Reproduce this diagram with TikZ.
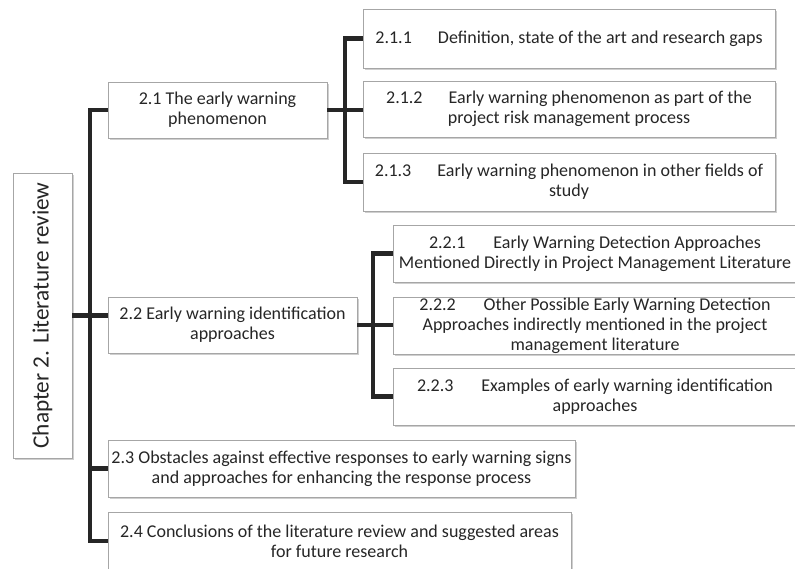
\documentclass[tikz,border=0pt]{standalone}
\usepackage{fontspec}
\setmainfont{Carlito}
\usetikzlibrary{positioning,calc,shadows}
\definecolor{ink}{HTML}{262626}
\definecolor{edge}{HTML}{A6A6A6}

\begin{document}
\begin{tikzpicture}[x=1pt,y=-1pt,font=\fontsize{18}{20}\selectfont,
  box/.style={draw=edge,line width=.8pt,fill=white,text=ink,align=center,inner xsep=2pt,inner ysep=0pt,
    drop shadow={shadow xshift=1.6pt,shadow yshift=-1.8pt,fill=gray!75}},
  link/.style={line width=4.2pt,ink}]
\useasboundingbox (0,0) rectangle (795,568);
% root
\node[box,minimum width=59,minimum height=285,font=\fontsize{23.3}{26}\selectfont]
  (root) at (42.5,315.5) {\rotatebox{90}{Chapter 2. Literature review}};
% sections
\node[box,minimum width=219,minimum height=56] (s21) at (217.5,110)
  {2.1 The early warning\\phenomenon};
\node[box,minimum width=249,minimum height=56] (s22) at (232.5,325)
  {2.2 Early warning identification\\approaches};
\node[box,minimum width=467,minimum height=57] (s23) at (341.5,468.5)
  {2.3 Obstacles against effective responses to early warning signs\\and approaches for enhancing the response process};
\node[box,minimum width=463,minimum height=58] (s24) at (339.5,541)
  {2.4 Conclusions of the literature review and suggested areas\\for future research};
% subsections of 2.1
\node[box,minimum width=412,minimum height=59] (s211) at (569,38.5)
  {2.1.1\hspace{1.45em}Definition, state of the art and research gaps};
\node[box,minimum width=412,minimum height=56] (s212) at (569,109)
  {2.1.2\hspace{1.45em}Early warning phenomenon as part of the\\project risk management process};
\node[box,minimum width=412,minimum height=58] (s213) at (569,182)
  {2.1.3\hspace{1.45em}Early warning phenomenon in other fields of\\study};
% subsections of 2.2
\node[box,minimum width=404,minimum height=57] (s221) at (595,253.5)
  {2.2.1\hspace{1.55em}Early Warning Detection Approaches\\Mentioned Directly in Project Management Literature};
\node[box,minimum width=404,minimum height=57] (s222) at (595,325.5)
  {2.2.2\hspace{1.55em}Other Possible Early Warning Detection\\Approaches indirectly mentioned in the project\\management literature};
\node[box,minimum width=404,minimum height=57] (s223) at (595,396.5)
  {2.2.3\hspace{1.55em}Examples of early warning identification\\approaches};
% connectors
\draw[link] (root.east) -- (root.east -| s22.west);
\draw[link] (s21.west) -- ++(-18,0) |- (s24.west);
\draw[link] (s23.west) -- ++(-18,0);
\draw[link] (s21.east) -- (s21.east -| s212.west);
\draw[link] (s211.west) -- ++(-18,0) |- (s213.west);
\draw[link] (s22.east) -- (s22.east -| s222.west);
\draw[link] (s221.west) -- ++(-20,0) |- (s223.west);
\end{tikzpicture}
\end{document}
